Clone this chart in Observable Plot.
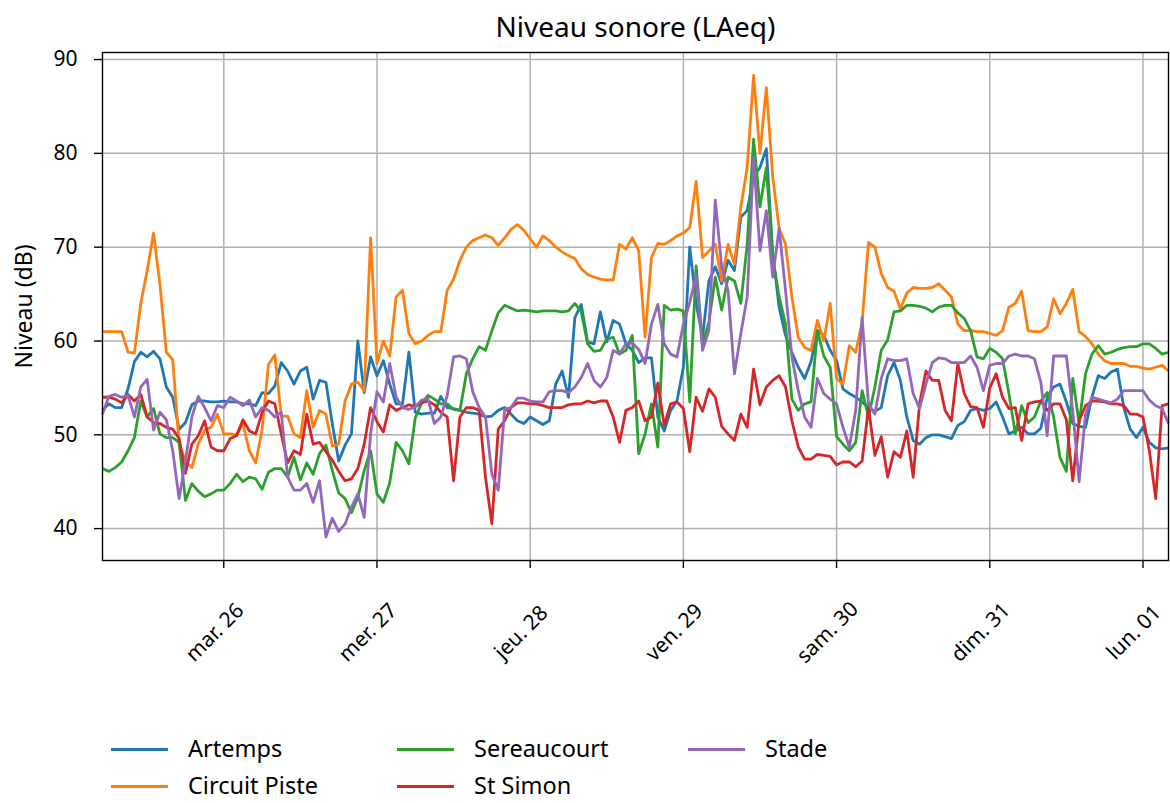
<!DOCTYPE html>
<html><head><meta charset="utf-8">
<script src="https://cdn.jsdelivr.net/npm/d3@7"></script>
<script src="https://cdn.jsdelivr.net/npm/@observablehq/plot@0.6"></script>
<style>
body{margin:0;background:#fff;font-family:"Noto Sans",sans-serif;}
#wrap{position:relative;width:1170px;height:803px;overflow:hidden;}
#wrap svg{position:absolute;left:0;top:0;}
.leg{position:absolute;display:flex;align-items:center;height:26px;line-height:1;font-size:23.5px;color:#000;white-space:nowrap;}
.sw{display:inline-block;width:57px;height:3px;margin-right:20px;}
</style></head><body><div id="wrap"></div>
<script>
const series = ["Artemps", "Circuit Piste", "Sereaucourt", "St Simon", "Stade"];
const colors = ["#1f77b4", "#ff7f0e", "#2ca02c", "#d62728", "#9467bd"];
const startHour = Date.UTC(2024, 2, 25, 5);
const dayTicks = [Date.UTC(2024,2,26), Date.UTC(2024,2,27), Date.UTC(2024,2,28), Date.UTC(2024,2,29), Date.UTC(2024,2,30), Date.UTC(2024,2,31), Date.UTC(2024,3,1)];
const dayLabels = ["mar. 26", "mer. 27", "jeu. 28", "ven. 29", "sam. 30", "dim. 31", "lun. 01"];
const yTicks = [40, 50, 60, 70, 80, 90];

const artemps = [52.6,53.3,52.9,52.9,54.9,57.8,58.8,58.3,58.9,58.1,
55.1,54.0,50.6,51.3,53.2,53.6,53.6,53.5,53.5,53.6,
53.5,53.5,53.3,53.3,53.1,54.5,54.4,55.2,57.7,56.8,
55.4,56.8,57.2,53.8,55.8,55.6,51.2,47.2,48.9,50.1,
60.0,54.5,58.3,56.3,57.9,55.4,53.3,53.3,58.8,52.4,
52.2,52.3,52.3,54.1,52.9,52.8,52.6,52.4,52.3,52.2,
51.9,52.0,52.6,52.9,52.2,51.5,51.2,51.9,51.5,51.1,
51.5,55.4,56.8,54.0,62.5,63.9,59.9,59.7,63.1,59.9,
62.2,61.8,59.7,59.0,57.7,58.2,58.2,51.9,50.4,52.6,
53.6,57.2,70.0,64.0,60.4,66.4,67.9,66.1,68.6,67.5,
73.2,73.9,77.5,78.5,80.5,69.3,63.6,60.6,58.8,57.2,
56.0,57.8,61.1,60.6,59.0,57.9,54.9,54.4,54.0,53.5,
52.9,52.5,52.9,56.3,57.7,55.8,51.9,49.4,49.0,49.7,
50.0,50.0,49.8,49.6,51.0,51.4,52.6,52.8,52.6,52.8,
53.5,51.9,50.1,50.4,50.8,50.1,50.1,50.7,54.0,55.1,
55.4,53.5,51.2,50.9,50.8,54.0,56.3,56.0,56.7,57.0,
52.9,50.6,49.7,50.8,49.2,48.6,48.5,48.6];

const circuitPiste = [61,61,61,61,58.8,58.7,64,67.5,71.5,66,
58.8,58,49,47.2,46.5,49,50.5,50.8,52.2,50.1,
50.1,50.0,51.2,48.3,47.0,50.5,57.5,58.5,52.0,52.0,
50.1,49.7,54.7,50.8,52.6,52.2,48.8,49.0,53.6,55.4,
55.6,54.7,71.0,57.6,60.0,58.4,64.7,65.4,60.8,59.7,
60.0,60.6,61.0,61.0,65.4,66.6,68.6,70.0,70.7,71.0,
71.3,71.0,70.2,71.0,71.9,72.4,71.8,70.9,70.0,71.2,
70.7,70.0,69.5,69.1,68.8,67.7,67.1,66.8,66.6,66.5,
66.5,70.3,69.8,71.0,69.6,60.4,68.9,70.4,70.3,70.7,
71.2,71.5,72.1,77.0,68.9,69.6,70.3,66.4,70.3,68.2,
74.3,78.5,88.3,80.0,87.0,77.5,72.0,70.3,64.7,60.4,
59.3,59.0,62.2,60.0,64.0,56.0,55.4,59.5,58.8,62.0,
70.5,70.0,67.2,65.7,65.3,63.4,65.1,65.7,65.6,65.6,
65.7,66.1,65.4,64.7,61.8,61.1,61.1,61.0,61.0,60.8,
60.6,61.1,63.6,64.0,65.3,61.1,61.0,61.0,61.5,64.5,
62.9,64.0,65.5,61.0,60.5,59.7,58.6,57.9,57.6,57.6,
57.6,57.3,57.3,57.1,57.0,57.2,57.4,56.8];

const sereaucourt = [46.4,46.1,46.5,47.1,48.3,49.7,53.6,51.9,52.8,50.1,
49.7,49.7,49.2,43.0,44.8,44.0,43.4,43.7,44.1,44.1,
44.8,45.8,45.0,45.5,45.3,44.2,46.0,46.4,46.4,45.5,
47.6,45.2,47.0,45.8,48.0,48.9,46.2,43.8,43.2,41.7,
43.3,46.2,48.3,43.7,42.8,44.9,49.2,48.3,46.9,51.8,
53.4,54.2,53.8,53.3,53.3,52.7,52.6,56.5,58.1,59.4,
59.0,61.1,63.0,63.8,63.5,63.2,63.3,63.2,63.1,63.2,
63.2,63.2,63.1,63.2,64.0,63.1,59.7,58.9,59.0,60.2,
60.4,58.6,59.0,60.6,48.0,50.1,53.3,48.7,63.8,63.3,
63.4,63.2,53.5,68.0,59.7,62.0,66.8,63.3,66.8,66.4,
64.0,70.3,81.5,74.3,78.5,68.9,64.7,61.8,53.8,52.6,
53.3,53.5,61.1,58.4,57.2,49.8,49.0,48.3,49.2,54.7,
51.9,55.1,59.0,60.1,63.1,63.2,63.8,63.8,63.7,63.5,
63.1,63.6,63.8,63.8,63.0,62.4,61.1,58.3,58.1,59.2,
58.8,58.1,54.4,50.1,53.1,51.3,51.9,53.6,54.5,51.9,
47.6,46.1,56.0,51.2,56.5,58.6,59.5,58.6,58.8,59.1,
59.3,59.4,59.4,59.7,59.7,59.2,58.6,58.8];

const stSimon = [54.0,54.0,53.8,53.4,54.3,53.6,54.3,51.9,51.3,51.2,
50.8,50.6,49.6,45.9,49.0,49.9,51.5,48.7,48.3,48.3,
49.6,49.9,51.6,50.4,50.1,52.4,53.6,53.3,50.1,47.0,
48.3,47.9,52.2,49.0,49.2,48.2,47.3,46.1,45.1,45.3,
46.4,49.0,52.9,51.4,50.3,53.2,52.6,52.9,53.2,53.0,
53.4,53.6,53.2,52.4,51.9,45.1,51.9,52.9,52.9,52.6,
45.5,40.5,50.6,51.5,52.9,53.4,53.4,53.3,53.3,53.1,
52.9,52.9,52.9,53.2,53.3,53.3,53.6,53.4,53.6,53.6,
51.9,49.2,52.6,52.9,53.6,51.5,51.9,55.5,51.0,53.3,
53.5,52.8,48.2,54.0,52.5,54.9,54.0,50.9,50.1,49.4,
52.2,50.8,57.0,53.2,55.1,55.8,56.3,55.1,51.5,48.7,
47.4,47.4,47.9,47.8,47.7,46.8,47.1,47.1,46.6,47.2,
52.9,47.8,49.8,45.5,48.2,47.6,50.4,45.5,53.3,56.8,
55.8,55.8,52.6,51.5,57.6,54.4,53.0,52.9,50.8,55.0,
56.5,54.0,52.8,52.9,49.4,53.3,53.5,53.6,52.6,53.3,
53.3,51.6,45.1,51.5,53.1,53.6,53.6,53.5,53.3,53.3,
53.1,52.2,52.2,51.9,48.3,43.2,53.1,53.3];

const stade = [52.2,54.1,54.3,54.0,54.2,51.9,55.1,55.9,50.5,52.4,
51.6,48.3,43.2,47.2,51.9,54.1,52.9,51.5,53.1,52.9,
54.0,53.6,53.1,53.7,51.9,52.9,52.6,51.9,52.4,45.5,
44.1,44.1,44.8,42.8,45.1,39.1,41.1,39.7,40.5,42.3,
43.7,41.2,50.1,54.6,53.5,57.6,54.0,52.9,52.7,53.0,
53.7,53.8,51.2,51.9,54.2,58.3,58.4,58.1,54.6,52.9,
51.9,45.8,44.1,52.7,52.9,53.9,53.9,53.6,53.5,53.5,
54.6,54.7,54.7,54.5,55.1,56.1,57.6,55.8,55.1,56.1,
59.0,58.6,59.7,59.8,59.1,57.6,61.8,63.9,59.7,58.6,
58.3,61.8,64.1,67.0,59.0,61.1,75.0,67.9,65.4,56.5,
60.8,64.7,79.5,69.6,73.9,66.8,72.0,65.4,58.3,54.7,
51.9,50.8,56.0,54.4,53.8,53.3,50.8,48.7,52.6,62.5,
53.3,52.2,56.0,58.1,57.9,57.9,58.1,54.4,52.8,55.4,
57.7,58.2,58.1,57.7,57.7,57.7,58.4,57.2,54.7,57.4,
57.6,57.6,58.4,58.6,58.4,58.4,58.1,55.6,49.9,58.4,
58.4,58.4,52.6,45.0,52.2,54.0,53.8,53.6,53.4,53.8,
54.7,54.7,54.7,54.7,53.7,53.1,52.8,51.2];

const allSeries = [artemps, circuitPiste, sereaucourt, stSimon, stade];
const rows = [];
allSeries.forEach((arr, i) => arr.forEach((v, h) => rows.push({site: series[i], t: new Date(startHour + h * 3600e3), v})));
const tickDates = dayTicks.map(d => new Date(d));
const FONT = "'Noto Sans', 'DejaVu Sans', sans-serif";

const chart = Plot.plot({
  width: 1170, height: 720,
  marginLeft: 102, marginRight: 2, marginTop: 52, marginBottom: 160,
  style: {fontFamily: FONT, fontSize: "21px", color: "#000", background: "#fff"},
  x: {type: "utc", domain: [new Date(startHour), new Date(startHour + 167 * 3600e3)]},
  y: {domain: [36.6, 90.75]},
  color: {domain: series, range: colors},
  marks: [
    Plot.gridX(tickDates, {stroke: "#b0b0b0", strokeOpacity: 1, strokeWidth: 1.5}),
    Plot.gridY(yTicks, {stroke: "#b0b0b0", strokeOpacity: 1, strokeWidth: 1.5}),
    Plot.line(rows, {x: "t", y: "v", z: "site", stroke: "site", strokeWidth: 2.8, strokeLinejoin: "round", strokeLinecap: "butt"}),
    Plot.frame({stroke: "#000", strokeWidth: 1.4}),
    Plot.axisY(yTicks, {tickSize: 8, tickPadding: 17, fontSize: 21, label: null, strokeWidth: 1.4}),
    Plot.axisX(tickDates, {tickSize: 8, tickFormat: () => "", label: null, strokeWidth: 1.4}),
    Plot.text(tickDates, {x: d => d, text: (d, i) => dayLabels[i], frameAnchor: "bottom", textAnchor: "middle", lineAnchor: "middle", dy: 72, dx: -9, rotate: -45, fontSize: 21}),
    Plot.text(["Niveau sonore (LAeq)"], {text: d => d, frameAnchor: "top", textAnchor: "middle", lineAnchor: "middle", dy: -24, fontSize: 28}),
    Plot.text(["Niveau (dB)"], {text: d => d, frameAnchor: "left", textAnchor: "middle", lineAnchor: "middle", dx: -78, rotate: -90, fontSize: 23})
  ]
});
const wrap = document.getElementById("wrap");
wrap.appendChild(chart);

const legendPos = [[111, 749], [111, 786], [397, 749], [397, 786], [688, 749]];
series.forEach((s, i) => {
  const d = document.createElement("div");
  d.className = "leg";
  d.style.left = legendPos[i][0] + "px";
  d.style.top = (legendPos[i][1] - 13) + "px";
  d.style.fontFamily = FONT;
  const sw = document.createElement("span");
  sw.className = "sw";
  sw.style.background = colors[i];
  d.appendChild(sw);
  d.appendChild(document.createTextNode(s));
  wrap.appendChild(d);
});
</script></body></html>
